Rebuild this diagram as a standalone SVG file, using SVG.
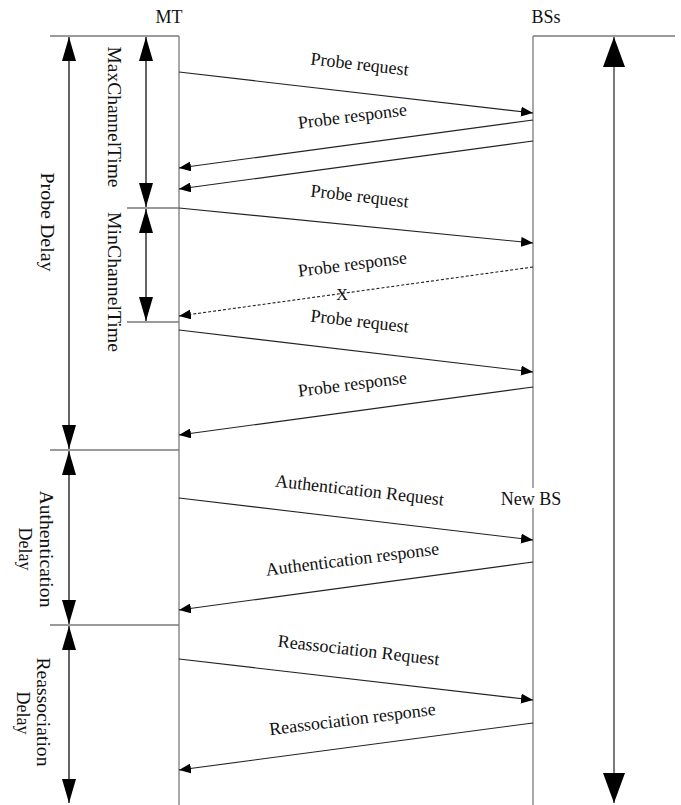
<svg xmlns="http://www.w3.org/2000/svg" width="681" height="805" viewBox="0 0 681 805">
<style>
text{font-family:"Liberation Serif","Times New Roman",serif;font-size:18px;fill:#111}
.life{stroke:#7a7a7a;stroke-width:1.3;fill:none}
.msg{stroke:#222;stroke-width:1.1;fill:none;marker-end:url(#m)}
.dash{stroke-dasharray:3,2}
.dim{stroke:#111;stroke-width:1.3;fill:none;marker-start:url(#d);marker-end:url(#d)}
.dimL{stroke:#222;stroke-width:1.2;fill:none;marker-start:url(#D);marker-end:url(#D)}
</style>
<defs>
<marker id="m" viewBox="0 0 12 10" refX="12" refY="5" markerWidth="12" markerHeight="10" markerUnits="userSpaceOnUse" orient="auto"><path d="M0,0L12,5L0,10z" fill="#000"/></marker>
<marker id="d" viewBox="0 0 24 14" refX="24" refY="7" markerWidth="24" markerHeight="14" markerUnits="userSpaceOnUse" orient="auto-start-reverse"><path d="M0,0L24,7L0,14z" fill="#000"/></marker>
<marker id="D" viewBox="0 0 30 22" refX="30" refY="11" markerWidth="30" markerHeight="22" markerUnits="userSpaceOnUse" orient="auto-start-reverse"><path d="M0,0L30,11L0,22z" fill="#000"/></marker>
</defs>
<rect width="681" height="805" fill="#fff"/>
<g id="MT">
<line class="life" x1="50" y1="36" x2="179" y2="36"/>
<line class="life" x1="179" y1="36" x2="179" y2="805"/>
<text x="169" y="23" text-anchor="middle">MT</text>
</g>
<g id="BSs">
<line class="life" x1="533" y1="36" x2="675" y2="36"/>
<line class="life" x1="533" y1="36" x2="533" y2="805"/>
<text x="546" y="23" text-anchor="middle">BSs</text>
<rect x="500" y="488" width="62" height="20" fill="#fff"/>
<text x="531" y="505" text-anchor="middle">New BS</text>
</g>
<g id="timing">
<line class="life" x1="127" y1="208" x2="179" y2="208"/>
<line class="life" x1="127" y1="322" x2="179" y2="322"/>
<line class="life" x1="50" y1="450" x2="179" y2="450"/>
<line class="life" x1="50" y1="625" x2="179" y2="625"/>
<line class="dim" x1="69" y1="37" x2="69" y2="449"/>
<line class="dim" x1="146" y1="37" x2="146" y2="207"/>
<line class="dim" x1="146" y1="209" x2="146" y2="321"/>
<line class="dim" x1="69" y1="451" x2="69" y2="624"/>
<line class="dim" x1="69" y1="626" x2="69" y2="803"/>
<line class="dimL" x1="614" y1="37" x2="614" y2="803"/>
<text transform="translate(41,222) rotate(90)" text-anchor="middle" textLength="99" lengthAdjust="spacingAndGlyphs">Probe Delay</text>
<text transform="translate(108,117) rotate(90)" text-anchor="middle" textLength="141" lengthAdjust="spacingAndGlyphs">MaxChannelTime</text>
<text transform="translate(108,282) rotate(90)" text-anchor="middle" textLength="140" lengthAdjust="spacingAndGlyphs">MinChannelTime</text>
<text transform="translate(40,549) rotate(90)" text-anchor="middle" textLength="117" lengthAdjust="spacingAndGlyphs">Authentication</text>
<text transform="translate(19,549) rotate(90)" text-anchor="middle">Delay</text>
<text transform="translate(37,712) rotate(90)" text-anchor="middle" textLength="109" lengthAdjust="spacingAndGlyphs">Reassociation</text>
<text transform="translate(17,713) rotate(90)" text-anchor="middle">Delay</text>
</g>
<g id="connectors">
<line class="msg" x1="179" y1="72" x2="533" y2="113"/>
<line class="msg" x1="533" y1="120" x2="179" y2="168"/>
<line class="msg" x1="533" y1="141" x2="179" y2="189"/>
<line class="msg" x1="179" y1="208" x2="533" y2="243"/>
<line class="msg dash" x1="533" y1="267" x2="179" y2="316"/>
<line class="msg" x1="179" y1="330" x2="533" y2="372"/>
<line class="msg" x1="533" y1="387" x2="179" y2="435"/>
<line class="msg" x1="179" y1="498" x2="533" y2="540"/>
<line class="msg" x1="533" y1="562" x2="179" y2="610"/>
<line class="msg" x1="179" y1="659" x2="533" y2="700"/>
<line class="msg" x1="533" y1="723" x2="179" y2="770"/>
</g>
<g id="labels">
<text x="359" y="70" text-anchor="middle" transform="rotate(6.5 359 70)">Probe request</text>
<text x="353" y="122" text-anchor="middle" transform="rotate(-7 353 122)">Probe response</text>
<text x="359" y="202" text-anchor="middle" transform="rotate(6.5 359 202)">Probe request</text>
<text x="353" y="270" text-anchor="middle" transform="rotate(-7 353 270)">Probe response</text>
<text x="342" y="300" text-anchor="middle" style="font-size:16px">X</text>
<text x="359" y="327" text-anchor="middle" transform="rotate(6.5 359 327)">Probe request</text>
<text x="353" y="390" text-anchor="middle" transform="rotate(-7 353 390)">Probe response</text>
<text x="359" y="496" text-anchor="middle" transform="rotate(6.5 359 496)">Authentication Request</text>
<text x="353" y="565" text-anchor="middle" transform="rotate(-7 353 565)">Authentication response</text>
<text x="358" y="656" text-anchor="middle" transform="rotate(6.5 358 656)">Reassociation Request</text>
<text x="353" y="725" text-anchor="middle" transform="rotate(-7 353 725)">Reassociation response</text>
</g>
</svg>
